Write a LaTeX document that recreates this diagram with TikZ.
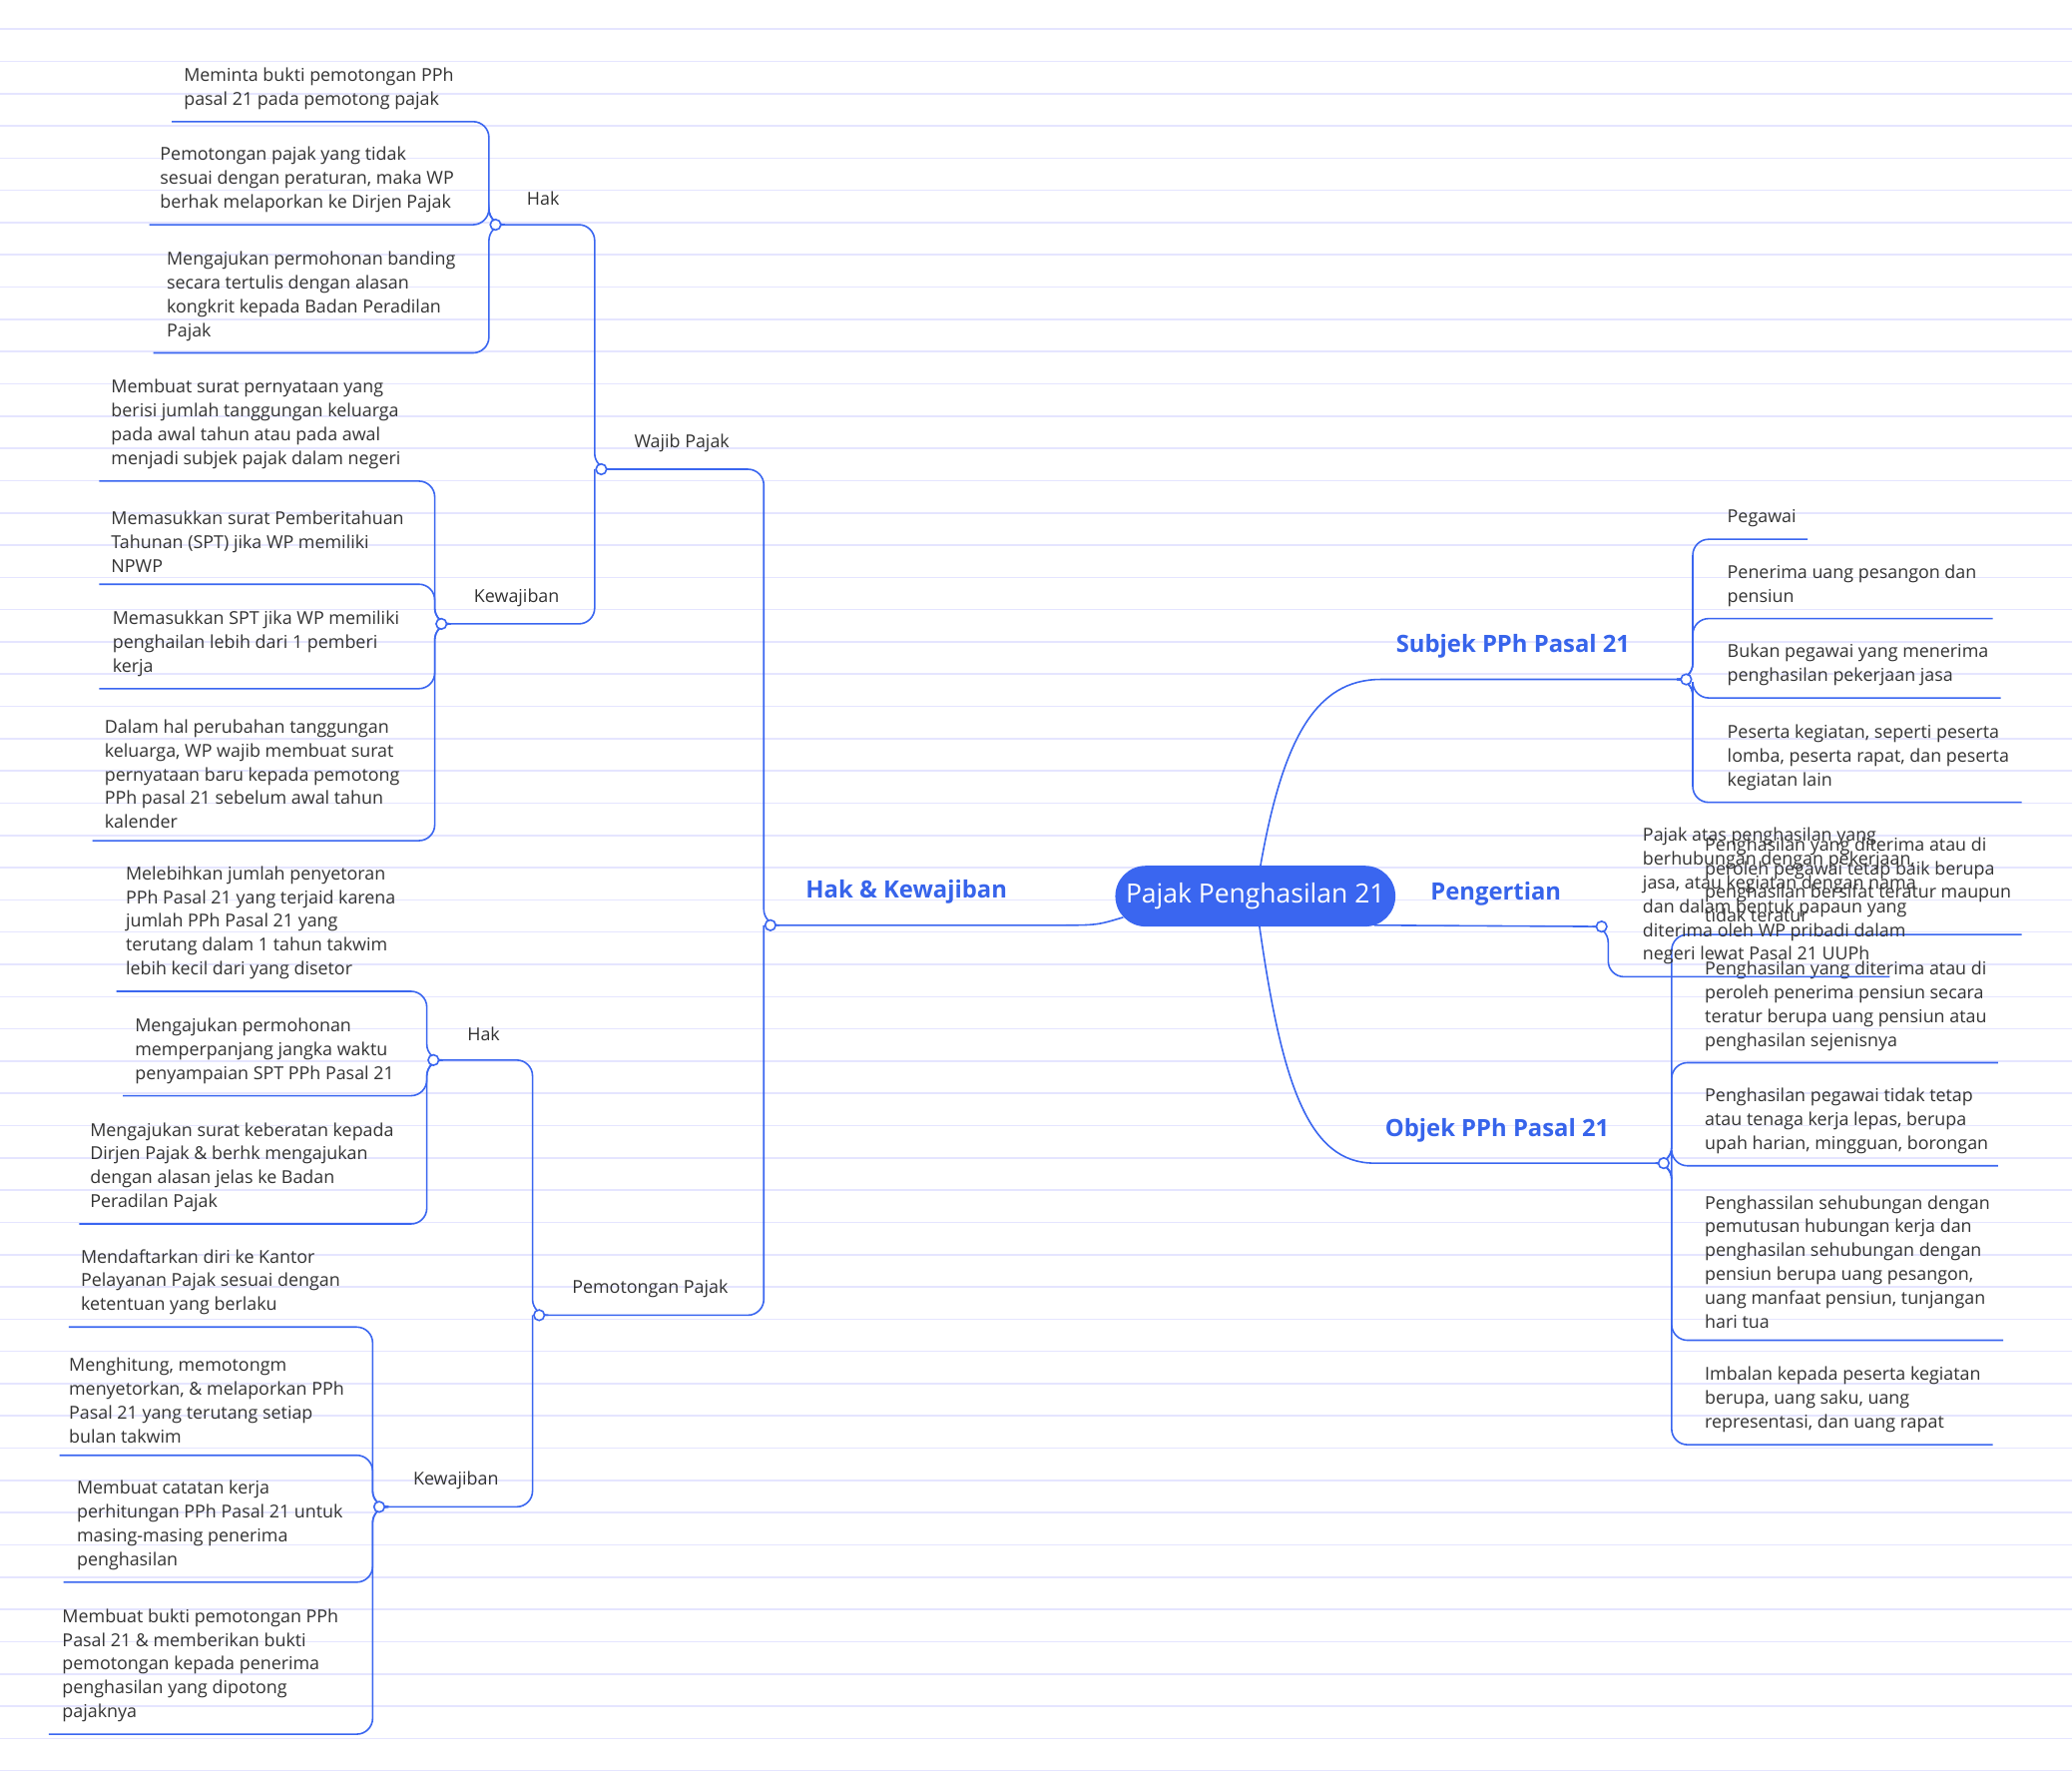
\documentclass[tikz,border=0pt]{standalone}
\usepackage{fontspec}
\setmainfont{Open Sans}
\definecolor{mb}{RGB}{58,102,240}
\definecolor{tb}{RGB}{55,100,235}
\begin{document}
\begin{tikzpicture}[x=1pt,y=-1pt,
  br/.style={draw=mb,line width=1.2pt,rounded corners=12pt},
  jn/.style={circle,draw=mb,fill=white,line width=1.2pt,inner sep=0pt,minimum size=8pt},
  tx/.style={anchor=south west,align=left,inner sep=0pt,font=\fontsize{13.5}{18}\selectfont,text=black!80},
  lb/.style={font=\fontsize{13.5}{18}\selectfont,text=black!80},
  big/.style={font=\fontsize{18}{22}\selectfont\bfseries,text=tb}]
\useasboundingbox (0,0) rectangle (1568,1349);
\fill[white] (0,0) rectangle (1568,1349);
\foreach \k in {0,...,54} \draw[blue!10,line width=1.2pt] (0,22+\k*24.4) -- (1568,22+\k*24.4);
\newcommand{\kid}[7]{\draw[br] (#1,#2) -- (#3,#2) |- (#5,#4);
  \node[tx] at (#6,#4-9) {#7};}
% trunk
\draw[br] (583,700) -- (578,700) |- (455,355);
\draw[br] (578,700) |- (408,995);
\draw[br] (455,355) -- (450,355) |- (375,170);
\draw[br] (450,355) |- (334,472);
\draw[br] (408,995) -- (403,995) |- (328,802);
\draw[br] (403,995) |- (287,1140);
\draw[br,rounded corners=0] (583,700) -- (800,700) .. controls (830,700) .. (850,694);
\draw[br,rounded corners=0] (953,660) .. controls (970,560) and (995,514) .. (1045,514) -- (1276,514);
\draw[br,rounded corners=0] (953,700) .. controls (970,820) and (990,880) .. (1040,880) -- (1259,880);
\draw[br,rounded corners=0] (1040,700) -- (1212,701);
% Wajib Pajak - Hak
\kid{375}{170}{370}{92}{130}{139}{Meminta bukti pemotongan PPh\\pasal 21 pada pemotong pajak}
\kid{375}{170}{370}{170}{113}{121}{Pemotongan pajak yang tidak\\sesuai dengan peraturan, maka WP\\berhak melaporkan ke Dirjen Pajak}
\kid{375}{170}{370}{267}{116}{126}{Mengajukan permohonan banding\\secara tertulis dengan alasan\\kongkrit kepada Badan Peradilan\\Pajak}
% Wajib - Kewajiban
\kid{334}{472}{329}{364}{75}{84}{Membuat surat pernyataan yang\\berisi jumlah tanggungan keluarga\\pada awal tahun atau pada awal\\menjadi subjek pajak dalam negeri}
\kid{334}{472}{329}{442}{75}{84}{Memasukkan surat Pemberitahuan\\Tahunan (SPT) jika WP memiliki\\NPWP}
\kid{334}{472}{329}{521}{75}{85}{Memasukkan SPT jika WP memiliki\\penghailan lebih dari 1 pemberi\\kerja}
\kid{334}{472}{329}{636}{70}{79}{Dalam hal perubahan tanggungan\\keluarga, WP wajib membuat surat\\pernyataan baru kepada pemotong\\PPh pasal 21 sebelum awal tahun\\kalender}
% Pemotongan - Hak
\kid{328}{802}{323}{750}{88}{95}{Melebihkan jumlah penyetoran\\PPh Pasal 21 yang terjaid karena\\jumlah PPh Pasal 21 yang\\terutang dalam 1 tahun takwim\\lebih kecil dari yang disetor}
\kid{328}{802}{323}{829}{93}{102}{Mengajukan permohonan\\memperpanjang jangka waktu\\penyampaian SPT PPh Pasal 21}
\kid{328}{802}{323}{926}{60}{68}{Mengajukan surat keberatan kepada\\Dirjen Pajak \& berhk mengajukan\\dengan alasan jelas ke Badan\\Peradilan Pajak}
% Pemotongan - Kewajiban
\kid{287}{1140}{282}{1004}{52}{61}{Mendaftarkan diri ke Kantor\\Pelayanan Pajak sesuai dengan\\ketentuan yang berlaku}
\kid{287}{1140}{282}{1101}{45}{52}{Menghitung, memotongm\\menyetorkan, \& melaporkan PPh\\Pasal 21 yang terutang setiap\\bulan takwim}
\kid{287}{1140}{282}{1197}{48}{58}{Membuat catatan kerja\\perhitungan PPh Pasal 21 untuk\\masing-masing penerima\\penghasilan}
\kid{287}{1140}{282}{1312}{37}{47}{Membuat bukti pemotongan PPh\\Pasal 21 \& memberikan bukti\\pemotongan kepada penerima\\penghasilan yang dipotong\\pajaknya}
% Subjek
\kid{1276}{514}{1281}{408}{1368}{1307}{Pegawai}
\kid{1276}{514}{1281}{468}{1508}{1307}{Penerima uang pesangon dan\\pensiun}
\kid{1276}{514}{1281}{528}{1514}{1307}{Bukan pegawai yang menerima\\penghasilan pekerjaan jasa}
\kid{1276}{514}{1281}{607}{1530}{1307}{Peserta kegiatan, seperti peserta\\lomba, peserta rapat, dan peserta\\kegiatan lain}
% Objek
\kid{1259}{880}{1265}{707}{1530}{1290}{Penghasilan yang diterima atau di\\peroleh pegawai tetap baik berupa\\penghasilan bersifat teratur maupun\\tidak teratur}
\kid{1259}{880}{1265}{804}{1512}{1290}{Penghasilan yang diterima atau di\\peroleh penerima pensiun secara\\teratur berupa uang pensiun atau\\penghasilan sejenisnya}
\kid{1259}{880}{1265}{882}{1512}{1290}{Penghasilan pegawai tidak tetap\\atau tenaga kerja lepas, berupa\\upah harian, mingguan, borongan}
\kid{1259}{880}{1265}{1014}{1516}{1290}{Penghassilan sehubungan dengan\\pemutusan hubungan kerja dan\\penghasilan sehubungan dengan\\pensiun berupa uang pesangon,\\uang manfaat pensiun, tunjangan\\hari tua}
\kid{1259}{880}{1265}{1093}{1508}{1290}{Imbalan kepada peserta kegiatan\\berupa, uang saku, uang\\representasi, dan uang rapat}
% Pengertian
\kid{1212}{701}{1217}{739}{1430}{1243}{Pajak atas penghasilan yang\\berhubungan dengan pekerjaan,\\jasa, atau kegiatan dengan nama\\dan dalam bentuk papaun yang\\diterima oleh WP pribadi dalam\\negeri lewat Pasal 21 UUPh}
% labels
\node[lb] at (411,150) {Hak};
\node[lb] at (516,335) {Wajib Pajak};
\node[lb] at (391,452) {Kewajiban};
\node[lb] at (366,782) {Hak};
\node[lb] at (492,975) {Pemotongan Pajak};
\node[lb] at (345,1120) {Kewajiban};
\node[big] at (686,675) {Hak \& Kewajiban};
\node[big] at (1145,489) {Subjek PPh Pasal 21};
\node[big] at (1132,676) {Pengertian};
\node[big] at (1133,855) {Objek PPh Pasal 21};
\node[fill=mb,text=white,rounded corners=23pt,minimum width=212pt,minimum height=46pt,font=\fontsize{20}{24}\selectfont] (c) at (950,678) {Pajak Penghasilan 21};
% junctions
\foreach \p in {(583,700),(455,355),(375,170),(334,472),(408,995),(328,802),(287,1140),(1276,514),(1259,880),(1212,701)} \node[jn] at \p {};
\end{tikzpicture}
\end{document}
